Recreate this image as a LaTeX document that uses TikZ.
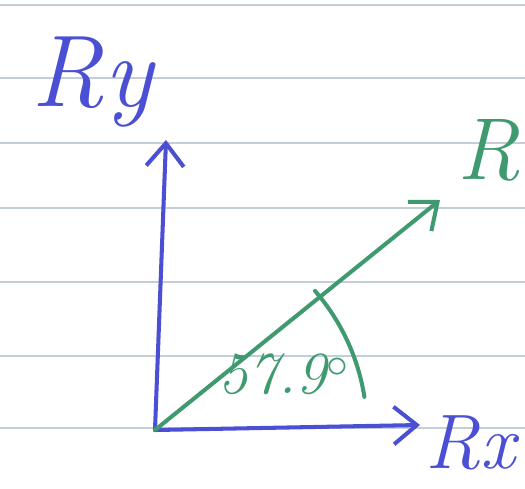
\documentclass[tikz,border=0pt]{standalone}
\usepackage{tikz}
\usepackage{xcolor}
\usetikzlibrary{
    positioning,
    calc,
    arrows.meta
}
\definecolor{Pauta}{HTML}{C3CED8}
\definecolor{AzulCaneta}{HTML}{4B4FD3}
\definecolor{VerdeCaneta}{HTML}{3F9A70}

\tikzset{
    pauta/.style={Pauta, line width=0.9pt},
    caneta/.style={line width=2.3pt, line cap=round, line join=round},
    ponta/.style={-{Straight Barb[length=4.6mm,width=7.5mm,line width=2.3pt]}},
    rotulo/.style={inner sep=0pt, font=\fontsize{58}{62}\selectfont\itshape}
}

\begin{document}
\begin{tikzpicture}[x=0.02cm, y=-0.02cm]
    \useasboundingbox (0,0) rectangle (525,488);
    \clip (0,0) rectangle (525,488);
    \fill[white] (0,0) rectangle (525,488);

    % linhas do caderno
    \foreach \y in {5,78,143,208,282,356,428}
        \draw[pauta] (0,\y) -- (525,\y);

    % pontos dos eixos
    \coordinate (origem) at (155,430);
    \coordinate (topoY) at (166,140);
    \coordinate (fimX) at (420,425);
    \coordinate (fimR) at (440,200);

    \draw[caneta, ponta, AzulCaneta] (origem) -- (topoY);
    \draw[caneta, ponta, AzulCaneta] (origem) -- (fimX);
    \draw[caneta, ponta, VerdeCaneta] (origem) -- (fimR);

    % arco do angulo
    \draw[caneta, VerdeCaneta] (origem) ++(-41:212) arc[start angle=-41, end angle=-9, radius=212];

    % rotulos
    \node[rotulo, AzulCaneta] (ry) at (92,82) {Ry};
    \node[rotulo, AzulCaneta, anchor=east, font=\fontsize{44}{48}\selectfont\itshape] (rx) at (516,443) {Rx};
    \node[rotulo, VerdeCaneta, anchor=east, font=\fontsize{50}{54}\selectfont\itshape] (r) at (520,150) {R};
    \node[rotulo, VerdeCaneta, font=\fontsize{34}{36}\selectfont\itshape] (angulo) at (284,374) {57.9$^{\circ}$};
\end{tikzpicture}
\end{document}
